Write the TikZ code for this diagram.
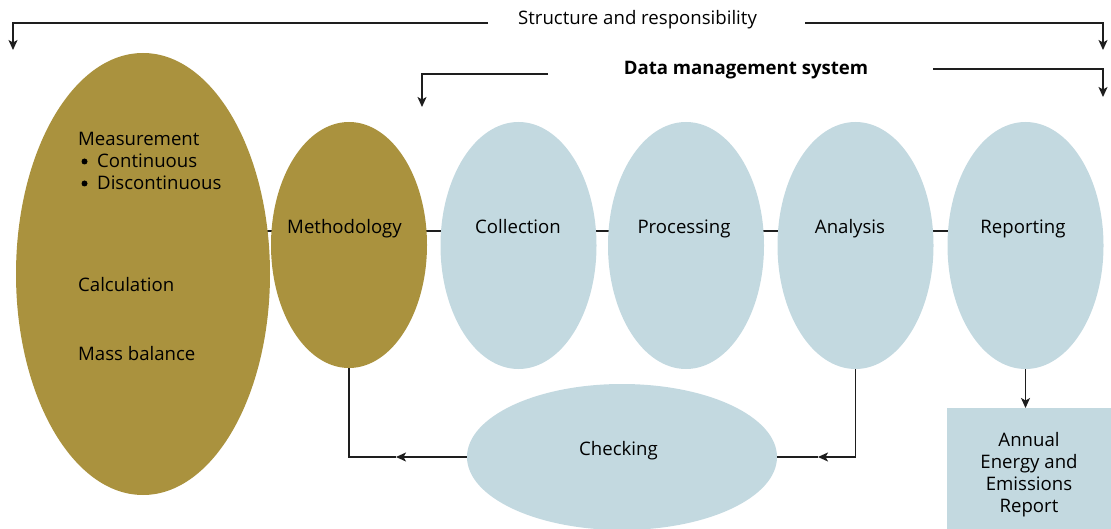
\documentclass[tikz,border=0pt]{standalone}
\usepackage{fontspec}
\setmainfont{Open Sans}
\usetikzlibrary{arrows.meta,shapes.geometric,backgrounds}
\definecolor{gold}{RGB}{170,146,62}
\definecolor{pale}{RGB}{195,217,224}
\definecolor{ink}{RGB}{30,30,30}
\tikzset{
  goldell/.style={ellipse, fill=gold, draw=none, inner sep=0pt},
  paleell/.style={ellipse, fill=pale, draw=none, inner sep=0pt},
  lbl/.style={inner sep=0pt, text=black},
  tight/.style={text height=13pt, text depth=3pt},
  bul/.style={circle, fill=black, inner sep=0pt, minimum size=6pt},
  conn/.style={draw=ink, line width=1.4pt},
  arr/.style={conn, -{Stealth[length=10pt,width=9pt,inset=2.5pt]}},
}
\begin{document}
\begin{tikzpicture}[x=1pt,y=-1pt,font=\fontsize{18.6}{22}\selectfont]
\useasboundingbox (0,0) rectangle (1111,529);

% ellipses
\node[goldell, minimum width=254, minimum height=442] (big) at (143,274) {};
\node[goldell, minimum width=156, minimum height=246] (meth) at (349,245) {};
\node[paleell, minimum width=156, minimum height=247] (coll) at (518.5,245.5) {};
\node[paleell, minimum width=156, minimum height=247] (proc) at (686,245.5) {};
\node[paleell, minimum width=156, minimum height=247] (anal) at (855.5,245.5) {};
\node[paleell, minimum width=156, minimum height=247] (rep) at (1025.5,245.5) {};
\node[paleell, minimum width=310, minimum height=146] (chk) at (622,457) {};
\node[fill=pale, inner sep=0pt, anchor=north west, minimum width=164, minimum height=125] (box) at (947,408) {};

% horizontal line behind ellipses
\begin{pgfonlayer}{background}
\draw[conn] (big.center |- 0,231) -- (rep.center |- 0,231);
\end{pgfonlayer}

% texts
\node[lbl, tight, anchor=base west] (t1) at (78,145.5) {Measurement};
\node[bul] (b1) at (84.5,161.5) {};
\node[lbl, tight, anchor=base west] (t2) at (97,168) {Continuous};
\node[bul] (b2) at (84.5,183.5) {};
\node[lbl, tight, anchor=base west] (t3) at (97,190) {Discontinuous};
\node[lbl, anchor=base west] (t4) at (78,291.5) {Calculation};
\node[lbl, anchor=base west] (t5) at (78,360.5) {Mass balance};
\node[lbl, anchor=base] (tm) at (344.5,233.5) {Methodology};
\node[lbl, anchor=base] (tc) at (518,233.5) {Collection};
\node[lbl, anchor=base] (tp) at (684,233.5) {Processing};
\node[lbl, anchor=base] (ta) at (850,233.5) {Analysis};
\node[lbl, anchor=base] (tr) at (1023,233.5) {Reporting};
\node[lbl, anchor=base] (tk) at (618.5,455.5) {Checking};
\node[lbl, align=center, anchor=north] (tb) at (1029,432) {Annual\\Energy and\\Emissions\\Report};

% top labels
\node[lbl, anchor=base] (sr) at (637.5,25) {Structure and responsibility};
\node[lbl, anchor=base] (dm) at (746,75) {\bfseries Data management system};

\coordinate (srl) at (488,23);
\coordinate (srr) at (805,23);
\coordinate (srlt) at (13,50);
\coordinate (srrt) at (1103,50);
\coordinate (dml) at (548,74);
\coordinate (dmr) at (933,69);
\coordinate (dmlt) at (422,107);
\coordinate (dmrt) at (1103,97);

\draw[arr] (srl) -| (srlt);
\draw[arr] (srr) -| (srrt);
\draw[arr] (dml) -| (dmlt);
\draw[arr] (dmr) -| (dmrt);

% feedback loop
\coordinate (lm) at (396,457);
\coordinate (rm) at (818,457);
\draw[arr] (chk.west) -- (lm);
\draw[conn] (lm) -- (meth.south |- lm) -- (meth.south);
\draw[arr] (anal.south) |- (rm);
\draw[conn] (rm) -- (chk.east);

% report
\draw[arr] (rep.south) -- (box.north -| rep.south);
\end{tikzpicture}
\end{document}
